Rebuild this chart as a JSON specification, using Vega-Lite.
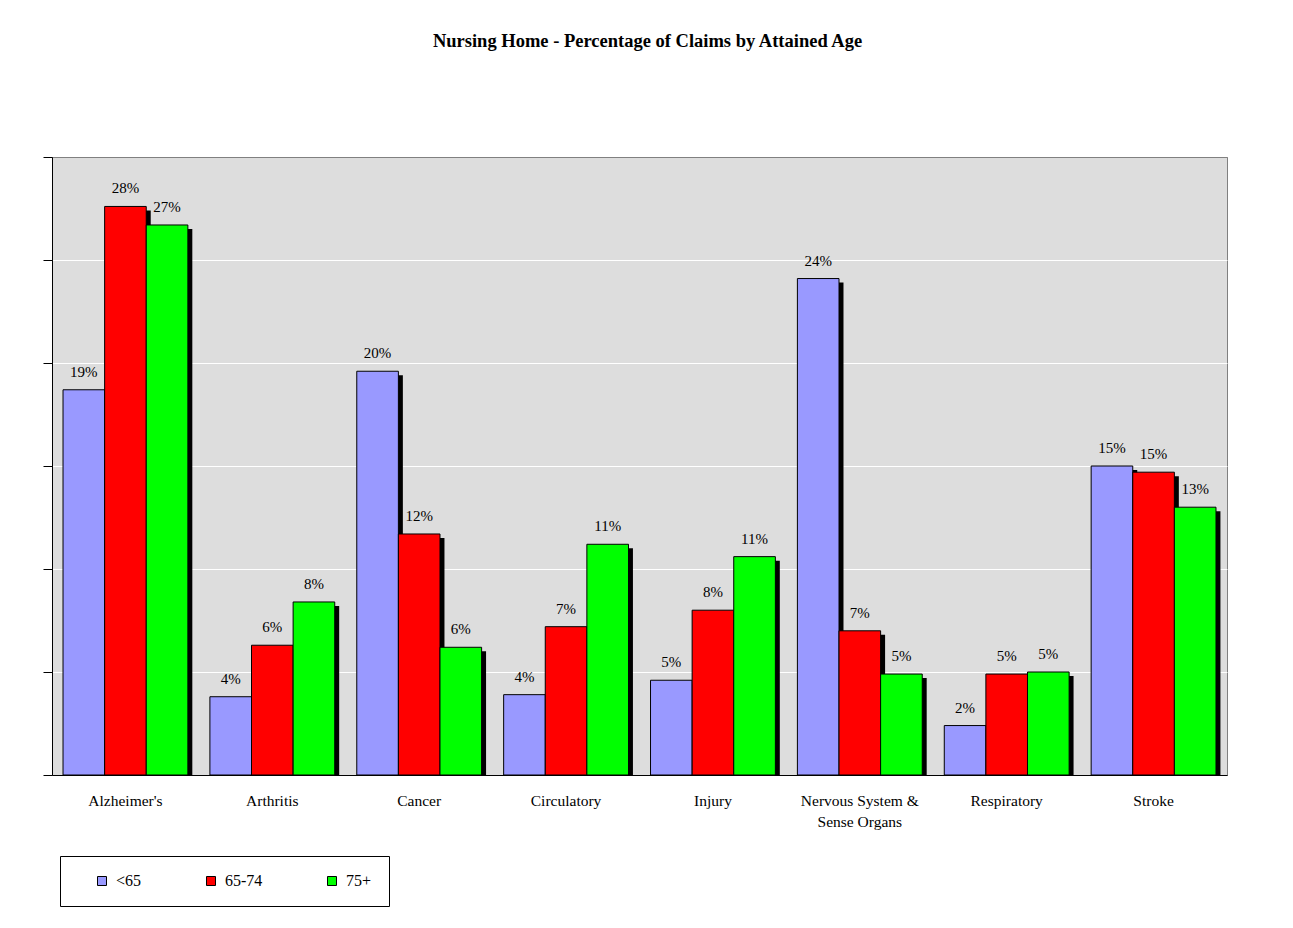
{
  "$schema": "https://vega.github.io/schema/vega-lite/v6.json",
  "width": 1175,
  "height": 618,
  "autosize": {"type": "none"},
  "padding": {"left": 52, "top": 157, "right": 66, "bottom": 153},
  "background": "white",
  "title": {
    "text": "Nursing Home - Percentage of Claims by Attained Age",
    "font": "Liberation Serif",
    "fontSize": 18.5,
    "fontWeight": "bold",
    "color": "black",
    "anchor": "middle",
    "frame": "group",
    "offset": 91,
    "baseline": "alphabetic",
    "dx": 8
  },
  "data": {
    "values": [
      {"cause": "Alzheimer's", "age": "<65", "share": 0.187},
      {"cause": "Alzheimer's", "age": "65-74", "share": 0.276},
      {"cause": "Alzheimer's", "age": "75+", "share": 0.267},
      {"cause": "Arthritis", "age": "<65", "share": 0.038},
      {"cause": "Arthritis", "age": "65-74", "share": 0.063},
      {"cause": "Arthritis", "age": "75+", "share": 0.084},
      {"cause": "Cancer", "age": "<65", "share": 0.196},
      {"cause": "Cancer", "age": "65-74", "share": 0.117},
      {"cause": "Cancer", "age": "75+", "share": 0.062},
      {"cause": "Circulatory", "age": "<65", "share": 0.039},
      {"cause": "Circulatory", "age": "65-74", "share": 0.072},
      {"cause": "Circulatory", "age": "75+", "share": 0.112},
      {"cause": "Injury", "age": "<65", "share": 0.046},
      {"cause": "Injury", "age": "65-74", "share": 0.080},
      {"cause": "Injury", "age": "75+", "share": 0.106},
      {"cause": "Nervous System & Sense Organs", "age": "<65", "share": 0.241},
      {"cause": "Nervous System & Sense Organs", "age": "65-74", "share": 0.070},
      {"cause": "Nervous System & Sense Organs", "age": "75+", "share": 0.049},
      {"cause": "Respiratory", "age": "<65", "share": 0.024},
      {"cause": "Respiratory", "age": "65-74", "share": 0.049},
      {"cause": "Respiratory", "age": "75+", "share": 0.050},
      {"cause": "Stroke", "age": "<65", "share": 0.150},
      {"cause": "Stroke", "age": "65-74", "share": 0.147},
      {"cause": "Stroke", "age": "75+", "share": 0.130}
    ]
  },
  "encoding": {
    "x": {
      "field": "cause",
      "type": "nominal",
      "sort": null,
      "scale": {"paddingInner": 0.15, "paddingOuter": 0.075},
      "axis": {
        "title": null,
        "ticks": false,
        "tickSize": 0,
        "domain": true,
        "domainColor": "black",
        "domainWidth": 1,
        "labelAngle": 0,
        "labelFont": "Liberation Serif",
        "labelFontSize": 15.5,
        "labelColor": "black",
        "labelPadding": 18,
        "labelBaseline": "top",
        "labelLineHeight": 21,
        "labelLimit": 0,
        "labelExpr": "datum.value == 'Nervous System & Sense Organs' ? ['Nervous System &', 'Sense Organs'] : datum.value"
      }
    },
    "y": {
      "field": "share",
      "type": "quantitative",
      "scale": {"domain": [0, 0.3], "nice": false},
      "axis": {
        "title": null,
        "labels": false,
        "domain": true,
        "domainColor": "black",
        "ticks": true,
        "tickColor": "black",
        "tickSize": 9,
        "grid": true,
        "gridColor": {"condition": {"test": "datum.value >= 0.299 || datum.value <= 0.001", "value": "#808080"}, "value": "#FFFFFF"},
        "gridWidth": 1,
        "values": [0, 0.05, 0.1, 0.15, 0.2, 0.25, 0.3]
      }
    }
  },
  "layer": [
    {
      "mark": {"type": "bar", "color": "black", "yOffset": 4, "clip": true},
      "encoding": {
        "xOffset": {
          "field": "age",
          "type": "nominal",
          "sort": ["<65", "65-74", "75+"],
          "scale": {"type": "band", "paddingInner": 0, "paddingOuter": 0, "range": [4.5, 129.3]}
        }
      }
    },
    {
      "mark": {"type": "bar", "stroke": "black", "strokeWidth": 1, "opacity": 1},
      "encoding": {
        "xOffset": {
          "field": "age",
          "type": "nominal",
          "sort": ["<65", "65-74", "75+"],
          "scale": {"type": "band", "paddingInner": 0, "paddingOuter": 0}
        },
        "color": {
          "field": "age",
          "type": "nominal",
          "sort": ["<65", "65-74", "75+"],
          "scale": {"domain": ["<65", "65-74", "75+"], "range": ["#9999FF", "#FF0000", "#00FF00"]},
          "legend": {
            "orient": "none",
            "legendX": 8,
            "legendY": 699,
            "direction": "horizontal",
            "title": " ",
            "titleOrient": "left",
            "titleFontSize": 6,
            "titlePadding": 17,
            "strokeColor": "black",
            "fillColor": "white",
            "padding": 17,
            "symbolType": "square",
            "symbolSize": 81,
            "symbolStrokeColor": "black",
            "symbolStrokeWidth": 1,
            "symbolOpacity": 1,
            "labelFont": "Liberation Serif",
            "labelFontSize": 16,
            "labelColor": "black",
            "labelOffset": 6,
            "columnPadding": 61
          }
        }
      }
    },
    {
      "mark": {"type": "text", "font": "Liberation Serif", "fontSize": 15, "color": "black", "baseline": "alphabetic", "dy": -13},
      "encoding": {
        "xOffset": {
          "field": "age",
          "type": "nominal",
          "sort": ["<65", "65-74", "75+"],
          "scale": {"type": "band", "paddingInner": 0, "paddingOuter": 0}
        },
        "text": {"field": "share", "type": "quantitative", "format": ".0%"}
      }
    }
  ],
  "resolve": {"scale": {"xOffset": "independent"}},
  "config": {
    "view": {"fill": "#DDDDDD", "stroke": "#808080", "strokeWidth": 1}
  }
}
